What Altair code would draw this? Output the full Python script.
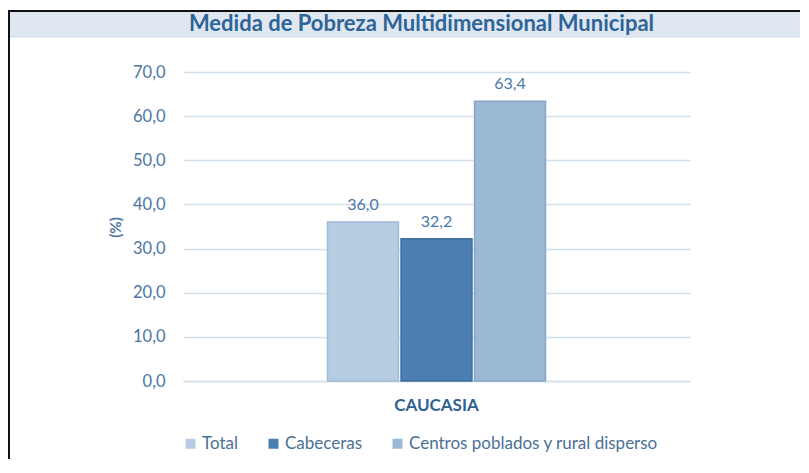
import altair as alt
import pandas as pd

title_text = "Medida de Pobreza Multidimensional Municipal"
categories = ["CAUCASIA"]
series = ["Total", "Cabeceras", "Centros poblados y rural disperso"]
values = [36.0, 32.2, 63.4]
colors = ["#b5cce1", "#4b7fb1", "#9bb8d4"]
strokes = ["#a0bbd6", "#3f6f9f", "#85a6c8"]
y_ticks = [0, 10, 20, 30, 40, 50, 60, 70]

df = pd.DataFrame({
    "municipio": [categories[0]] * len(series),
    "serie": series,
    "valor": values,
})
df["etiqueta"] = [f"{v:.1f}".replace(".", ",") for v in values]

FONT = "Lato"

x = alt.X("municipio:N", title=None,
          scale=alt.Scale(paddingInner=0, paddingOuter=0.663),
          axis=alt.Axis(labelFont=FONT, labelFontSize=17, labelFontWeight="bold",
                        labelColor="#2f6093", labelPadding=16, ticks=False,
                        domain=True, domainColor="#d3dfeb", domainWidth=1.5,
                        labelAngle=0, grid=False))
y = alt.Y("valor:Q", title="(%)",
          scale=alt.Scale(domain=[0, 70], nice=False),
          axis=alt.Axis(values=y_ticks, labelExpr="replace(format(datum.value, '.1f'), '.', ',')",
                        labelFont=FONT, labelFontSize=16.5, labelColor="#4a76a4",
                        labelPadding=18, ticks=False, domain=False,
                        grid=True, gridColor="#d3dfeb", gridWidth=1.5,
                        titleFont=FONT, titleFontSize=15, titleFontWeight="bold",
                        titleColor="#4a76a4", titleX=-60, titleY=155))
xoff = alt.XOffset("serie:N", sort=series,
                   scale=alt.Scale(paddingInner=0.035, paddingOuter=0))

bars = alt.Chart(df).mark_bar(strokeWidth=1.5).encode(
    x=x, y=y, xOffset=xoff,
    color=alt.Color("serie:N", sort=series,
                    scale=alt.Scale(domain=series, range=colors),
                    legend=alt.Legend(title=None, orient="none", direction="horizontal",
                                      legendX=-1, legendY=363,
                                      symbolType="square", symbolSize=100,
                                      symbolStrokeWidth=0,
                                      labelFont=FONT, labelFontSize=17,
                                      labelColor="#4b6f95", labelOffset=3,
                                      labelLimit=0, columnPadding=26)),
    stroke=alt.Stroke("serie:N", sort=series,
                      scale=alt.Scale(domain=series, range=strokes), legend=None),
)

labels = alt.Chart(df).mark_text(baseline="alphabetic", dy=-12, font=FONT,
                                 fontSize=16, color="#4a78a6").encode(
    x=x, y=alt.Y("valor:Q"), xOffset=xoff, text="etiqueta:N"
)

one = alt.Data(values=[{"t": title_text}])
band = alt.Chart(one).mark_rect(color="#dfe8f1", stroke="#cddbe8", strokeWidth=1).encode(
    x=alt.value(-174), x2=alt.value(620), y=alt.value(-60), y2=alt.value(-35)
)
top_line = alt.Chart(one).mark_rule(color="#111111", strokeWidth=2).encode(
    x=alt.value(-175), x2=alt.value(620), y=alt.value(-61)
)
left_line = alt.Chart(one).mark_rule(color="#111111", strokeWidth=2).encode(
    x=alt.value(-174), y=alt.value(-62), y2=alt.value(387)
)
title = alt.Chart(one).mark_text(font=FONT, fontSize=22, fontWeight="bold",
                                 color="#2f6498", align="center",
                                 baseline="alphabetic").encode(
    x=alt.value(238.5), y=alt.value(-41), text="t:N"
)

chart = alt.layer(band, top_line, left_line, title, bars, labels).properties(
    width=507, height=309,
    autosize=alt.AutoSizeParams(type="none"),
    padding={"left": 175, "top": 64, "right": 110, "bottom": 78},
    background="white",
).configure_view(stroke=None)

chart.save("out.html", embed_options={"renderer": "svg", "actions": False})
